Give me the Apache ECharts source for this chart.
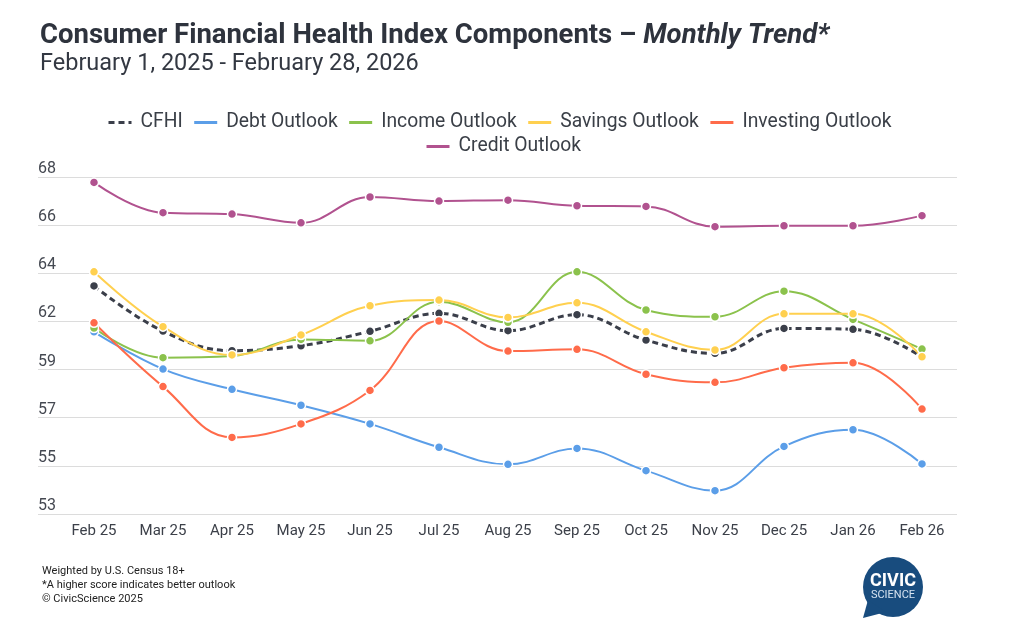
<!DOCTYPE html>
<html>
<head>
<meta charset="utf-8">
<script src="https://cdn.jsdelivr.net/npm/echarts@6/dist/echarts.min.js"></script>
<style>html,body{margin:0;padding:0;background:#fff}#c{width:1024px;height:631px}</style>
</head>
<body>
<div id="c"></div>
<script>
const categories = ['Feb 25','Mar 25','Apr 25','May 25','Jun 25','Jul 25','Aug 25','Sep 25','Oct 25','Nov 25','Dec 25','Jan 26','Feb 26'];
const cfhi      = [63.15,61.14,60.27,60.49,61.13,61.93,61.16,61.87,60.74,60.15,61.26,61.22,59.98];
const debt      = [61.11,59.45,58.55,57.84,57.01,55.97,55.21,55.92,54.93,54.04,56.01,56.75,55.23];
const income    = [61.28,59.96,60.03,60.77,60.71,62.45,61.53,63.78,62.08,61.78,62.92,61.66,60.34];
const savings   = [63.78,61.34,60.08,60.97,62.27,62.52,61.75,62.40,61.11,60.30,61.91,61.91,60.00];
const investing = [61.51,58.67,56.41,57.01,58.50,61.59,60.25,60.33,59.22,58.86,59.51,59.73,57.67];
const credit    = [67.76,66.41,66.35,65.96,67.11,66.93,66.97,66.72,66.69,65.79,65.83,65.83,66.28];
const yTickLabels = ['53','55','57','59','62','64','66','68'];
const yMin = 53, yMax = 68;

const FONT = 'Roboto';
const chart = echarts.init(document.getElementById('c'), null, {renderer: 'canvas'});

function mk(name, data, color, extra) {
  return Object.assign({
    name: name, type: 'line', data: data, smooth: 0.4,
    xAxisIndex: 0, yAxisIndex: 0,
    symbol: 'circle', symbolSize: 9,
    lineStyle: {color: color, width: 2},
    itemStyle: {color: color, borderColor: '#fff', borderWidth: 1.5},
    emphasis: {disabled: true}
  }, extra || {});
}

const yInterval = (yMax - yMin) / 7;
const legendCommon = {
  itemWidth: 23, itemHeight: 14, itemGap: 10, padding: 0,
  textStyle: {fontFamily: FONT, fontSize: 19.3, color: '#3a3f47', padding: [0, 0, 0, 4]},
  itemStyle: {opacity: 0},
  lineStyle: {width: 3}
};

chart.setOption({
  animation: false,
  backgroundColor: '#fff',
  textStyle: {fontFamily: FONT},
  title: [{
    text: '{a|Consumer Financial Health Index Components – }{b|Monthly Trend*}',
    left: 40, top: 22, padding: 0,
    textStyle: {
      rich: {
        a: {fontFamily: FONT, fontSize: 27.5, fontWeight: 'bold', color: '#2e333d'},
        b: {fontFamily: FONT, fontSize: 27.5, fontWeight: 'bold', fontStyle: 'italic', color: '#2e333d'}
      }
    }
  }, {
    text: 'February 1, 2025 - February 28, 2026',
    left: 40, top: 52, padding: 0,
    textStyle: {fontFamily: FONT, fontSize: 23.5, fontWeight: 'normal', color: '#333842'}
  }],
  legend: [
    Object.assign({top: 113, left: 107, data: ['CFHI','Debt Outlook','Income Outlook','Savings Outlook','Investing Outlook']}, legendCommon),
    Object.assign({top: 137, left: 425, data: ['Credit Outlook']}, legendCommon)
  ],
  grid: [
    {left: 59.5, right: 67.5, top: 177, bottom: 117},
    {left: 38, right: 67, top: 177, bottom: 117}
  ],
  xAxis: [{
    type: 'category', data: categories, gridIndex: 0, boundaryGap: true,
    axisLine: {show: false}, axisTick: {show: false},
    axisLabel: {fontFamily: FONT, fontSize: 15, color: '#3c4049', margin: 10}
  }, {
    type: 'value', gridIndex: 1, min: 0, max: 1, show: false
  }],
  yAxis: [{
    type: 'value', gridIndex: 0, min: yMin, max: yMax, interval: yInterval, show: false,
    splitLine: {show: false}
  }, {
    type: 'value', gridIndex: 1, min: yMin, max: yMax, interval: yInterval,
    axisLine: {show: false}, axisTick: {show: false},
    splitLine: {show: true, lineStyle: {color: '#dcdcdc', width: 1.2}},
    axisLabel: {
      inside: true, margin: 0, verticalAlign: 'bottom', align: 'left',
      padding: [0, 0, 0, 0],
      fontFamily: FONT, fontSize: 16, color: '#444851',
      formatter: function (v, i) { return yTickLabels[i] !== undefined ? yTickLabels[i] : ''; }
    }
  }],
  series: [
    mk('CFHI', cfhi, '#3b3f4a', {lineStyle: {color: '#3b3f4a', width: 3, type: [6, 4]}, z: 3}),
    mk('Debt Outlook', debt, '#5b9ee8'),
    mk('Income Outlook', income, '#8bc24c'),
    mk('Savings Outlook', savings, '#ffd04f'),
    mk('Investing Outlook', investing, '#ff6b4a'),
    mk('Credit Outlook', credit, '#b1528f')
  ],
  graphic: [
    {type: 'text', left: 42, top: 566, style: {text: 'Weighted by U.S. Census 18+', font: '11px Roboto', fill: '#222'}},
    {type: 'text', left: 42, top: 580, style: {text: '*A higher score indicates better outlook', font: '11px Roboto', fill: '#222'}},
    {type: 'text', left: 42, top: 594, style: {text: '© CivicScience 2025', font: '11px Roboto', fill: '#222'}},
    {type: 'circle', shape: {cx: 893, cy: 587, r: 30}, style: {fill: '#184c7e'}},
    {type: 'polygon', shape: {points: [[868, 600], [863, 618], [886, 612]]}, style: {fill: '#184c7e'}},
    {type: 'text', x: 893, y: 581, style: {text: 'CIVIC', font: 'bold 18px Roboto', fill: '#fff', align: 'center', verticalAlign: 'middle'}},
    {type: 'text', x: 893, y: 595, style: {text: 'SCIENCE', font: '11px Roboto', fill: '#d6e3f0', align: 'center', verticalAlign: 'middle'}}
  ]
});
</script>
</body>
</html>
